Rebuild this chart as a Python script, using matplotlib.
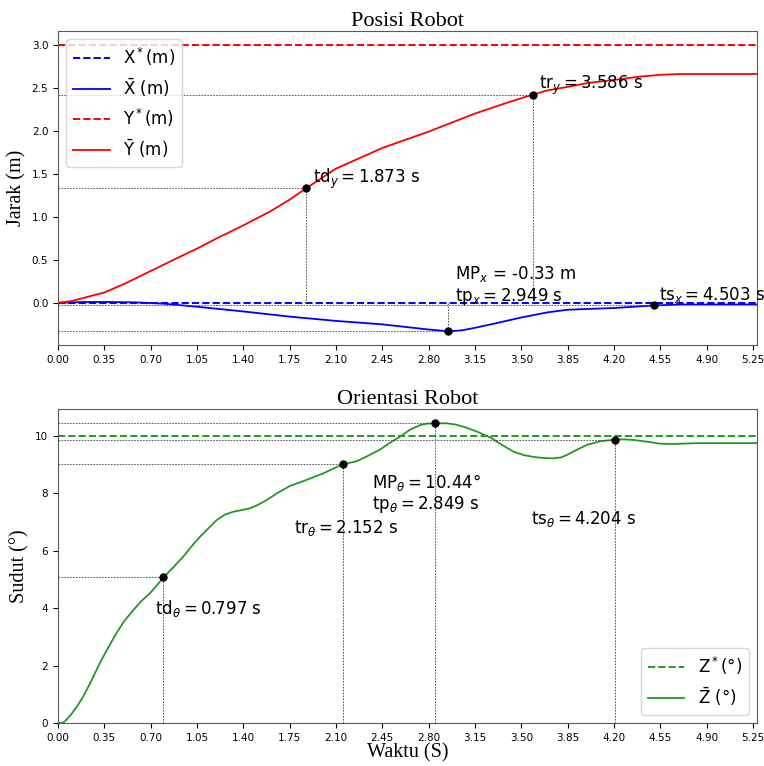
import numpy as np
import matplotlib
matplotlib.use('Agg')
import matplotlib.pyplot as plt

# --- data ---
t_y = [0, 0.1, 0.2, 0.35, 0.5, 0.7, 0.9, 1.05, 1.2, 1.4, 1.6, 1.75, 1.873, 2.1, 2.45,
       2.8, 3.15, 3.4, 3.586, 3.7, 3.85, 4.0, 4.2, 4.4, 4.55, 4.7, 4.9, 5.28]
y_pos = [0, 0.02, 0.06, 0.12, 0.22, 0.37, 0.52, 0.63, 0.75, 0.90, 1.06, 1.2, 1.33, 1.56, 1.80,
         1.99, 2.20, 2.33, 2.42, 2.47, 2.51, 2.555, 2.59, 2.63, 2.65, 2.66, 2.66, 2.66]

t_x = [0, 0.2, 0.4, 0.6, 0.8, 1.05, 1.4, 1.75, 2.1, 2.45, 2.8, 2.949, 3.05, 3.15, 3.3,
       3.5, 3.7, 3.85, 4.2, 4.503, 4.7, 5.28]
x_pos = [0, 0.01, 0.01, 0.005, -0.01, -0.045, -0.10, -0.16, -0.21, -0.25, -0.31, -0.33, -0.32,
         -0.29, -0.24, -0.17, -0.11, -0.08, -0.06, -0.03, -0.02, -0.02]

t_z = [0, 0.03, 0.05, 0.1, 0.15, 0.19, 0.25, 0.315, 0.38, 0.44, 0.5, 0.57, 0.63, 0.695, 0.797,
       0.87, 0.947, 1.01, 1.073, 1.14, 1.199, 1.26, 1.325, 1.39, 1.451, 1.51, 1.577, 1.66,
       1.753, 1.879, 2.005, 2.152, 2.2, 2.257, 2.33, 2.434, 2.51, 2.585, 2.66, 2.736, 2.79,
       2.849, 2.938, 3.0, 3.064, 3.16, 3.265, 3.35, 3.442, 3.52, 3.593, 3.67, 3.744, 3.8,
       3.845, 3.92, 3.996, 4.1, 4.204, 4.28, 4.348, 4.45, 4.55, 4.65, 4.827, 5.28]
z_ang = [0, 0, 0.05, 0.3, 0.62, 0.92, 1.45, 2.08, 2.63, 3.12, 3.55, 3.94, 4.25, 4.52, 5.07,
         5.42, 5.80, 6.16, 6.49, 6.80, 7.07, 7.26, 7.36, 7.42, 7.48, 7.60, 7.77, 8.02,
         8.26, 8.47, 8.70, 9.02, 9.06, 9.12, 9.28, 9.53, 9.77, 9.98, 10.22, 10.38, 10.43,
         10.44, 10.44, 10.40, 10.32, 10.16, 9.95, 9.70, 9.45, 9.33, 9.27, 9.23, 9.22, 9.25,
         9.34, 9.52, 9.69, 9.82, 9.87, 9.88, 9.86, 9.80, 9.73, 9.72, 9.75, 9.75]

x_ref = 0.0
y_ref = 3.0
z_ref = 10.0

# characteristic points (time, value)
td_y, td_y_val = 1.873, 1.33
tr_y, tr_y_val = 3.586, 2.42
tp_x, mp_x = 2.949, -0.33
ts_x, ts_x_val = 4.503, -0.03

td_z, td_z_val = 0.797, 5.07
tr_z, tr_z_val = 2.152, 9.02
tp_z, mp_z = 2.849, 10.44
ts_z, ts_z_val = 4.204, 9.87

t_end = 5.28
xticks = np.arange(0, 5.26, 0.35)

fig = plt.figure(figsize=(7.64, 7.66), dpi=100)
ax1 = fig.add_axes([0.0759, 0.5496, 0.9149, 0.41])
ax2 = fig.add_axes([0.0759, 0.0561, 0.9149, 0.41])

serif = 'Liberation Serif'
guide = dict(color='0.25', linestyle=(0, (2, 1.5)), linewidth=0.6)
zgreen = '#229a22'

# ---- Posisi Robot ----
ax1.plot([0, t_end], [x_ref, x_ref], '--', color='blue', lw=1.4, label='X$^*$(m)')
ax1.plot(t_x, x_pos, '-', color='blue', lw=1.3, label=r'$\bar{\mathrm{X}}$ (m)')
ax1.plot([0, t_end], [y_ref, y_ref], '--', color='red', lw=1.4, label='Y$^*$(m)')
ax1.plot(t_y, y_pos, '-', color='red', lw=1.3, label=r'$\bar{\mathrm{Y}}$ (m)')

for tt, vv in [(td_y, td_y_val), (tr_y, tr_y_val), (tp_x, mp_x), (ts_x, ts_x_val)]:
    ax1.hlines(vv, 0, tt, **guide)
    ax1.vlines(tt, min(0, vv), max(0, vv), **guide)
    ax1.plot(tt, vv, 'o', color='k', ms=5)

ax1.text(1.93, 1.44, '$\\mathrm{td}_y = 1.873$ s', fontsize=12, va='center')
ax1.text(3.63, 2.53, '$\\mathrm{tr}_y = 3.586$ s', fontsize=12, va='center')
ax1.text(3.0, 0.2, 'MP$_x$ = -0.33 m\n$\\mathrm{tp}_x = 2.949$ s', fontsize=12, va='center',
         linespacing=1.1)
ax1.text(4.54, 0.09, '$\\mathrm{ts}_x = 4.503$ s', fontsize=12, va='center')

ax1.set_xlim(0, t_end)
ax1.set_ylim(-0.49, 3.16)
ax1.set_xticks(xticks)
ax1.set_xticklabels(['%.2f' % v for v in xticks])
ax1.set_yticks([0, 0.5, 1.0, 1.5, 2.0, 2.5, 3.0])
ax1.tick_params(labelsize=7.5)
ax1.set_ylabel('Jarak (m)', fontsize=14.5, family=serif)
ax1.set_title('Posisi Robot', fontsize=16, family=serif, pad=3)
ax1.legend(loc='upper left', fontsize=12, handlelength=2.2)

# ---- Orientasi Robot ----
ax2.plot([0, t_end], [z_ref, z_ref], '--', color=zgreen, lw=1.4, label='Z$^*$(°)')
ax2.plot(t_z, z_ang, '-', color=zgreen, lw=1.3, label=r'$\bar{\mathrm{Z}}$ (°)')

for tt, vv in [(td_z, td_z_val), (tr_z, tr_z_val), (tp_z, mp_z), (ts_z, ts_z_val)]:
    ax2.hlines(vv, 0, tt, **guide)
    ax2.vlines(tt, 0, vv, **guide)
    ax2.plot(tt, vv, 'o', color='k', ms=5)

ax2.text(0.73, 4.0, '$\\mathrm{td}_\\theta = 0.797$ s', fontsize=12, va='center')
ax2.text(1.78, 6.8, '$\\mathrm{tr}_\\theta = 2.152$ s', fontsize=12, va='center')
ax2.text(2.37, 8.0, 'MP$_\\theta = 10.44°$\n$\\mathrm{tp}_\\theta = 2.849$ s', fontsize=12,
         va='center', linespacing=1.1)
ax2.text(3.57, 7.1, '$\\mathrm{ts}_\\theta = 4.204$ s', fontsize=12, va='center')

ax2.set_xlim(0, t_end)
ax2.set_ylim(0, 10.94)
ax2.set_xticks(xticks)
ax2.set_xticklabels(['%.2f' % v for v in xticks])
ax2.set_yticks([0, 2, 4, 6, 8, 10])
ax2.tick_params(labelsize=7.5)
ax2.set_ylabel('Sudut (°)', fontsize=14.5, family=serif)
ax2.set_xlabel('Waktu (S)', fontsize=14.5, family=serif, labelpad=0)
ax2.set_title('Orientasi Robot', fontsize=16, family=serif, pad=3)
ax2.legend(loc='lower right', fontsize=12, handlelength=2.2)

for ax in (ax1, ax2):
    for s in ax.spines.values():
        s.set_color('0.35')

fig.savefig('out.png', dpi=100)
